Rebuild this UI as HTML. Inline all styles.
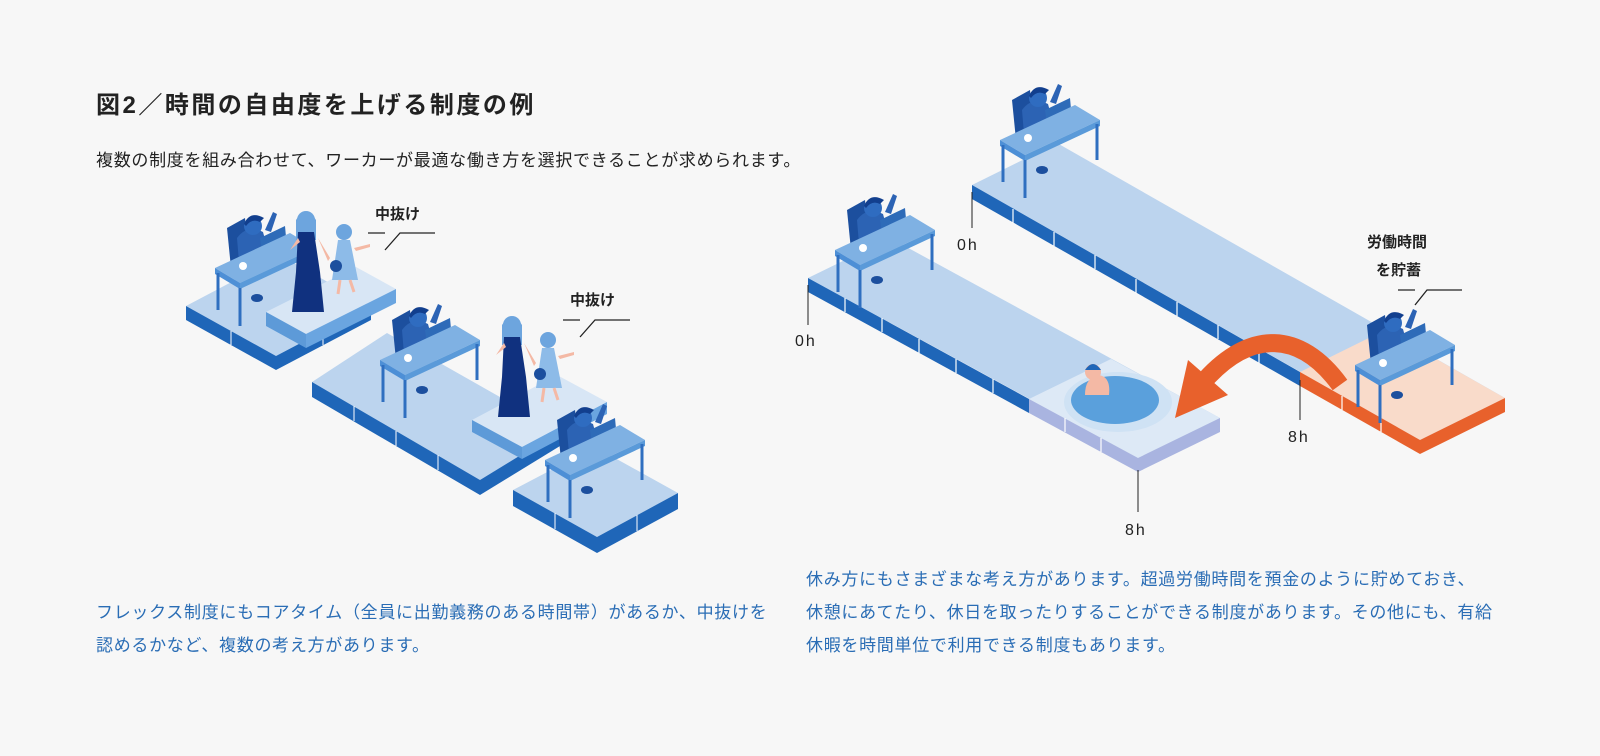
<!DOCTYPE html>
<html><head><meta charset="utf-8"><style>
body{margin:0;background:#f7f7f7;}
.w{position:relative;width:1600px;height:756px;overflow:hidden;font-family:"Liberation Sans","Noto Sans CJK JP",sans-serif;}
.t{position:absolute;white-space:nowrap;}
</style></head><body><div class="w">
<div class="t" style="left:96px;top:85px;font-size:24px;font-weight:bold;color:#222;letter-spacing:2.5px">図2／時間の自由度を上げる制度の例</div>
<div class="t" style="left:96px;top:146px;font-size:17px;color:#222;letter-spacing:0.7px">複数の制度を組み合わせて、ワーカーが最適な働き方を選択できることが求められます。</div>
<div class="t" style="left:96px;top:596px;font-size:17px;color:#2a6db5;line-height:33px;letter-spacing:0.7px">フレックス制度にもコアタイム（全員に出勤義務のある時間帯）があるか、中抜けを<br>認めるかなど、複数の考え方があります。</div>
<div class="t" style="left:806px;top:563px;font-size:17px;color:#2a6db5;line-height:33px;letter-spacing:0.7px">休み方にもさまざまな考え方があります。超過労働時間を預金のように貯めておき、<br>休憩にあてたり、休日を取ったりすることができる制度があります。その他にも、有給<br>休暇を時間単位で利用できる制度もあります。</div>
<svg width="1600" height="756" style="position:absolute;left:0;top:0" font-family="Liberation Sans, Noto Sans CJK JP, sans-serif">
<defs>
<g id="desk">
<polygon points="12,-40 30,-50 34,-10 16,0" fill="#1c4f9e"/>
<path d="M22,-30 q10,-14 26,-6 l6,22 l-30,8z" fill="#2c63b4"/>
<circle cx="38" cy="-42" r="9" fill="#2f6cc0"/>
<path d="M29,-44 q6,-14 20,-6 l-4,4 q-8,-4 -14,4z" fill="#123f8e"/>
<path d="M50,-38 l8,-18 l4,2 l-6,18z" fill="#2c63b4"/>
<polygon points="45,-30 70,-42 72,-20 48,-8" fill="#2e6bb8"/>
<polygon points="0,0 75,-35 100,-20 25,15" fill="#7fb1e3"/>
<polygon points="0,0 25,15 25,21 0,6" fill="#4d8fd6"/>
<polygon points="25,15 100,-20 100,-14 25,21" fill="#5a9ad9"/>
<circle cx="28" cy="-2" r="4" fill="#fff"/>
<line x1="3" y1="5" x2="3" y2="42" stroke="#2f6fc0" stroke-width="3"/>
<line x1="25" y1="20" x2="25" y2="58" stroke="#2f6fc0" stroke-width="3"/>
<line x1="97" y1="-16" x2="97" y2="20" stroke="#2f6fc0" stroke-width="3"/>
<ellipse cx="42" cy="30" rx="6" ry="4" fill="#1c4f9e"/>
</g>
<g id="mom">
<circle cx="10" cy="0" r="9" fill="#6da5de"/>
<path d="M0,0 q10,-16 20,0 l0,20 l-20,0z" fill="#6da5de"/>
<path d="M2,12 l16,0 l6,40 l4,40 l-32,0 l4,-40z" fill="#10317f"/>
<path d="M-6,30 l8,-12 l2,4z M22,18 l12,20 l-2,3z" fill="#f4b9a5"/>
</g>
<g id="kid">
<circle cx="8" cy="0" r="8" fill="#6da5de"/>
<path d="M2,8 l12,0 l8,40 l-26,0z" fill="#8dbbe8"/>
<circle cx="0" cy="34" r="6" fill="#1c4f9e"/>
<line x1="4" y1="48" x2="2" y2="62" stroke="#f4b9a5" stroke-width="3"/>
<line x1="14" y1="48" x2="18" y2="60" stroke="#f4b9a5" stroke-width="3"/>
<path d="M18,16 l16,-4 l0,3 l-14,4z" fill="#f4b9a5"/>
</g>
</defs>
<polygon points="186,306 276,356 371,306 281,256" fill="#bcd4ee"/>
<polygon points="186,306 276,356 276,370 186,320" fill="#1f66b8"/>
<polygon points="276,356 371,306 371,320 276,370" fill="#1f66b8"/>
<line x1="231" y1="331" x2="231" y2="345" stroke="#fff"/>
<line x1="323" y1="331" x2="323" y2="345" stroke="#fff"/>
<use href="#desk" x="215" y="268"/>
<polygon points="266,312 306,334 396,289 356,267" fill="#d8e6f5"/>
<polygon points="266,312 306,334 306,348 266,326" fill="#5d9ad8"/>
<polygon points="306,334 396,289 396,303 306,348" fill="#6aa5e0"/>
<use href="#mom" x="296" y="220"/>
<use href="#kid" x="336" y="232"/>

<polygon points="312,382 480,480 560,431 387,333" fill="#bcd4ee"/>
<polygon points="312,382 480,480 480,495 312,397" fill="#1f66b8"/>
<polygon points="480,480 560,431 560,446 480,495" fill="#1f66b8"/>
<line x1="354" y1="406" x2="354" y2="421" stroke="#fff"/><line x1="396" y1="431" x2="396" y2="446" stroke="#fff"/><line x1="438" y1="455" x2="438" y2="470" stroke="#fff"/>
<use href="#desk" x="380" y="360"/>
<polygon points="472,420 522,447 607,402 557,375" fill="#d8e6f5"/>
<polygon points="472,420 522,447 522,459 472,432" fill="#5d9ad8"/>
<polygon points="522,447 607,402 607,414 522,459" fill="#6aa5e0"/>
<use href="#mom" x="502" y="325"/>
<use href="#kid" x="540" y="340"/>

<polygon points="513,490 597,537 678,493 595,447" fill="#bcd4ee"/>
<polygon points="513,490 597,537 597,553 513,506" fill="#1f66b8"/>
<polygon points="597,537 678,493 678,509 597,553" fill="#1f66b8"/>
<line x1="555" y1="513" x2="555" y2="529" stroke="#fff"/><line x1="637" y1="515" x2="637" y2="531" stroke="#fff"/>
<use href="#desk" x="545" y="460"/>
<g font-weight="bold" font-size="15" fill="#222">
<text x="375" y="219">中抜け</text><text x="570" y="305">中抜け</text></g>
<g stroke="#222" stroke-width="1.3" fill="none">
<path d="M368,233 h17 M385,250 l15,-17 h35"/>
<path d="M563,320 h17 M580,337 l15,-17 h35"/>
<path d="M1398,290 h17 M1415,305 l12,-15 h35"/></g>

<polygon points="972,185 1420,440 1505,398 1057,143" fill="#bcd4ee"/>
<polygon points="1300,372 1420,440 1505,398 1385,330" fill="#f9dbca"/>
<polygon points="972,185 1300,372 1300,386 972,199" fill="#1f66b8"/>
<polygon points="1300,372 1420,440 1420,454 1300,386" fill="#e8612c"/>
<polygon points="1420,440 1505,398 1505,412 1420,454" fill="#e8612c"/>
<g stroke="#fff" stroke-width="1.2">
<line x1="1013" y1="209" x2="1013" y2="223"/><line x1="1054" y1="232" x2="1054" y2="246"/><line x1="1095" y1="255" x2="1095" y2="269"/><line x1="1136" y1="279" x2="1136" y2="293"/><line x1="1177" y1="302" x2="1177" y2="316"/><line x1="1218" y1="325" x2="1218" y2="339"/><line x1="1259" y1="349" x2="1259" y2="363"/><line x1="1342" y1="396" x2="1342" y2="410"/><line x1="1381" y1="418" x2="1381" y2="432"/></g>
<use href="#desk" x="1000" y="140"/>
<use href="#desk" x="1355" y="365"/>
<polygon points="808,278 1138,458 1220,418 890,238" fill="#bcd4ee"/>
<polygon points="1029,399 1138,458 1220,418 1111,359" fill="#dde9f6"/>
<polygon points="808,278 1029,399 1029,413 808,292" fill="#1f66b8"/>
<polygon points="1029,399 1138,458 1138,472 1029,413" fill="#a9b4e0"/>
<polygon points="1138,458 1220,418 1220,432 1138,472" fill="#a9b4e0"/>
<g stroke="#fff" stroke-width="1.2">
<line x1="845" y1="298" x2="845" y2="312"/><line x1="882" y1="318" x2="882" y2="332"/><line x1="919" y1="339" x2="919" y2="353"/><line x1="956" y1="359" x2="956" y2="373"/><line x1="993" y1="379" x2="993" y2="393"/><line x1="1065" y1="418" x2="1065" y2="432"/><line x1="1101" y1="438" x2="1101" y2="452"/></g>
<use href="#desk" x="835" y="250"/>
<ellipse cx="1118" cy="402" rx="54" ry="30" fill="#cfe2f4"/>
<ellipse cx="1115" cy="400" rx="44" ry="24" fill="#5aa0dc"/>
<path d="M1085,395 q0,-18 14,-20 q12,2 10,20z" fill="#f4b9a5"/>
<circle cx="1093" cy="372" r="8" fill="#f4b9a5"/>
<path d="M1085,370 q8,-12 16,0z" fill="#1f66b8"/>
<path d="M1340,385 C1300,330 1250,330 1205,380" stroke="#e8612c" stroke-width="18" fill="none"/>
<polygon points="1175,418 1188,360 1228,395" fill="#e8612c"/>
<g stroke="#222" stroke-width="1"><line x1="808" y1="285" x2="808" y2="325"/><line x1="972" y1="192" x2="972" y2="228"/><line x1="1300" y1="380" x2="1300" y2="420"/><line x1="1138" y1="470" x2="1138" y2="512"/></g>
<g font-size="16" fill="#222" letter-spacing="2"><text x="795" y="346">0h</text><text x="957" y="250">0h</text><text x="1288" y="442">8h</text><text x="1125" y="535">8h</text></g>
<g font-size="15" font-weight="bold" fill="#222"><text x="1367" y="247">労働時間</text><text x="1376" y="275">を貯蓄</text></g>
</svg>
</div></body></html>
